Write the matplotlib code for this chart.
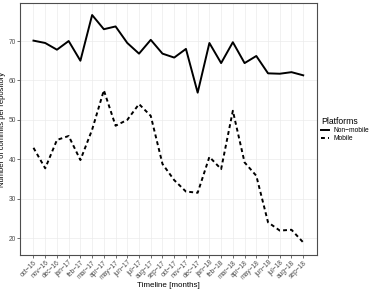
import matplotlib
matplotlib.use('Agg')
import matplotlib.pyplot as plt

plt.rcParams['font.family'] = ['Liberation Sans', 'DejaVu Sans']

# Months on the timeline
months = ['oct-16', 'nov-16', 'dec-16', 'jan-17', 'feb-17', 'mar-17', 'apr-17',
          'may-17', 'jun-17', 'jul-17', 'aug-17', 'sep-17', 'oct-17', 'nov-17',
          'dec-17', 'jan-18', 'feb-18', 'mar-18', 'apr-18', 'may-18', 'jun-18',
          'jul-18', 'aug-18', 'sep-18']
month_labels = [m.replace('-', '\u2212') for m in months]

# Commits per repository
non_mobile = [70.1, 69.5, 67.8, 70.0, 65.0, 76.6, 73.0, 73.7, 69.5, 66.8, 70.3, 66.8,
              65.8, 68.0, 56.9, 69.5, 64.4, 69.7, 64.4, 66.2, 61.8, 61.7, 62.1, 61.3]
mobile = [42.9, 37.7, 44.9, 45.9, 39.8, 47.5, 57.5, 48.5, 50.0, 54.0, 51.0, 38.8,
          34.7, 31.8, 31.5, 40.6, 37.5, 52.3, 39.2, 35.8, 24.0, 21.9, 22.1, 18.9]

fig = plt.figure(figsize=(3.74, 2.89), dpi=100)
ax = fig.add_axes([20 / 374, 34 / 289, 296.7 / 374, 252 / 289])

x = list(range(len(months)))
ax.plot(x, non_mobile, color='black', lw=1.4, label='Non\u2212mobile')
ax.plot(x, mobile, color='black', lw=1.4, ls=(0, (2, 1.6)), label='Mobile')

# Axis limits with ggplot-like expansion
ax.set_xlim(-1.15, len(months) - 1 + 1.15)
ax.set_ylim(15.7, 79.65)

ax.set_xticks(x)
ax.set_xticklabels(month_labels, rotation=45, ha='right', rotation_mode='anchor',
                   fontsize=4.8, color='#4d4d4d')
ax.set_yticks([20, 30, 40, 50, 60, 70])
ax.tick_params(axis='y', labelsize=4.8, labelcolor='#4d4d4d', length=2,
               color='#333333', width=0.5, pad=1)
ax.tick_params(axis='x', length=2, color='#333333', width=0.5, pad=1)

# Grid
ax.set_axisbelow(True)
ax.grid(True, color='#ebebeb', lw=0.5)
for s in ax.spines.values():
    s.set_color('#4d4d4d')
    s.set_linewidth(0.8)

ax.set_xlabel('Timeline [months]', fontsize=5.8, labelpad=1)
ax.set_ylabel('Number of commits per repository', fontsize=5.5, labelpad=2)

# Legend outside right
leg = fig.legend(loc='center left', bbox_to_anchor=(321 / 374, 1 - 130 / 289),
                 title='Platforms', fontsize=4.8, title_fontsize=6.2, frameon=False,
                 handlelength=1.2, handletextpad=0.6, labelspacing=0.15,
                 borderpad=0, borderaxespad=0)
leg._legend_box.align = 'left'

fig.savefig('out.png', dpi=100)
